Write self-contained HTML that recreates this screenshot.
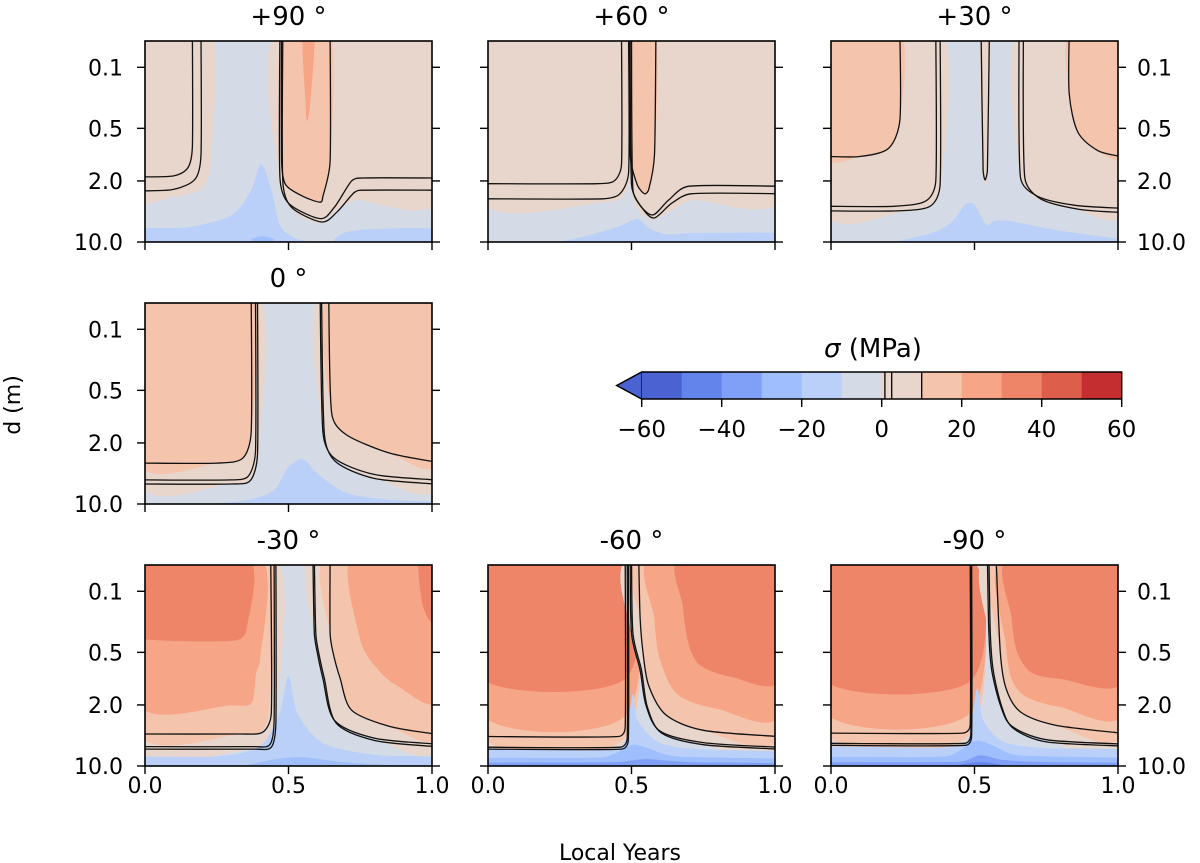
<!DOCTYPE html>
<html><head><meta charset="utf-8">
<style>
html,body{margin:0;padding:0;background:#fff;}
svg{display:block;font-family:"DejaVu Sans","Liberation Sans",sans-serif;}
</style></head>
<body>
<svg id="fig" width="1200" height="863" viewBox="0 0 1200 863" xmlns="http://www.w3.org/2000/svg">
<text x="620" y="860" font-size="22" text-anchor="middle">Local Years</text>
<text x="0" y="0" font-size="22" text-anchor="middle" transform="translate(20,405) rotate(-90)">d (m)</text>
</svg>
<script>
// ---------- data ----------
const levelColors = {n6:'#4a62d2',n5:'#6384eb',n4:'#80a0f8',n3:'#9ebefd',n2:'#bad0f8',n1:'#d4dbe6',p0:'#ecd3c6',p1:'#e8d6cd',p2:'#f5c4ad',p3:'#f6a586',p4:'#ee8569',p5:'#dc5e4b',p6:'#c42e30'};
const cbarEdges = [-60,-50,-40,-30,-20,-10,0,0.8,2.5,10,20,30,40,50,60];
const cbarKeys = ['n6','n5','n4','n3','n2','n1','p0','p1','p1','p2','p3','p4','p5','p6'];
const cbarLines = [0.8,2.5,10];
const cbarTicks = [-60,-40,-20,0,20,40,60];
const yTicks = [0.1,0.5,2.0,10.0];
const yTickLabels = ['0.1','0.5','2.0','10.0'];
const xTicks = [0,0.5,1.0];
const xTickLabels = ['0.0','0.5','1.0'];

const p90Fills = [
 ['p1',[[-0.02,0.04],[0.23,0.04],[0.23,1.0],[0.20,2.4],[0.08,3.1],[-0.02,3.2]]],
 ['p1',[[0.462,0.04],[1.02,0.04],[1.02,3.3],[0.74,3.3],[0.68,4.0],[0.61,5.9],[0.54,5.0],[0.48,3.0],[0.462,1.5]]],
 ['p2',[[0.478,0.04],[0.645,0.04],[0.645,1.2],[0.62,3.0],[0.61,3.5],[0.55,3.0],[0.49,2.2],[0.478,1.2]]],
 ['p3',[[0.55,0.04],[0.59,0.04],[0.575,0.25],[0.565,0.41],[0.56,0.25]]],
 ['n2',[[-0.02,7.2],[0.15,6.8],[0.30,5.0],[0.37,2.6],[0.405,1.3],[0.44,2.6],[0.47,6.5],[0.52,9.0],[0.58,10.5],[-0.02,10.5]]],
 ['n2',[[0.66,10.5],[0.69,8.0],[0.78,7.2],[1.02,7.2],[1.02,10.5]]],
 ['n3',[[0.37,9.4],[0.41,8.7],[0.45,9.4],[0.41,10.0]]]
];
const p90Lines = [
 [[0.165,0.04],[0.165,0.8],[0.15,1.4],[0.10,1.75],[-0.01,1.8]],
 [[0.195,0.04],[0.195,1.0],[0.175,1.9],[0.10,2.5],[-0.01,2.6]],
 [[0.47,0.04],[0.47,1.8],[0.50,3.6],[0.61,5.4],[0.66,4.0],[0.72,2.0],[0.76,1.85],[1.01,1.85]],
 [[0.48,0.04],[0.48,2.0],[0.51,4.0],[0.615,5.9],[0.67,4.5],[0.73,2.7],[0.77,2.55],[1.01,2.55]],
 [[0.645,0.04],[0.645,1.2],[0.62,3.0],[0.61,3.5],[0.55,3.0],[0.49,2.2],[0.476,1.2],[0.476,0.04]]
];
const p60Fills = [
 ['p1',[[-0.02,0.04],[0.50,0.04],[0.50,1.5],[0.47,3.0],[0.40,3.5],[-0.02,3.5]]],
 ['p1',[[0.49,0.04],[1.02,0.04],[1.02,3.2],[0.72,3.3],[0.64,4.3],[0.58,5.5],[0.53,4.5],[0.50,2.5]]],
 ['p2',[[0.49,0.04],[0.585,0.04],[0.58,1.0],[0.56,2.5],[0.545,2.8],[0.52,2.2],[0.495,1.0]]],
 ['n2',[[0.25,10.5],[0.35,8.5],[0.45,6.8],[0.52,5.5],[0.56,7.0],[0.62,8.2],[0.70,8.0],[1.02,8.0],[1.02,10.5]]]
];
const p60Lines = [
 [[0.465,0.04],[0.465,1.3],[0.44,2.0],[0.38,2.15],[-0.01,2.15]],
 [[0.49,0.04],[0.49,1.6],[0.46,2.8],[0.40,3.2],[-0.01,3.2]],
 [[0.585,0.04],[0.58,1.0],[0.56,2.5],[0.545,2.8],[0.52,2.2],[0.495,1.0],[0.492,0.04]],
 [[0.495,0.04],[0.50,2.2],[0.53,3.8],[0.575,4.9],[0.63,3.3],[0.70,2.3],[1.01,2.3]],
 [[0.50,0.04],[0.505,2.5],[0.54,4.2],[0.58,5.3],[0.64,3.6],[0.71,2.8],[1.01,2.8]]
];
const p30Fills = [
 ['p1',[[-0.02,0.04],[0.385,0.04],[0.385,2.0],[0.35,3.8],[0.25,4.5],[-0.02,4.6]]],
 ['p2',[[-0.02,0.04],[0.24,0.04],[0.24,0.4],[0.20,0.85],[0.1,1.05],[-0.02,1.05]]],
 ['p1',[[0.52,0.04],[0.555,0.04],[0.545,1.5],[0.537,2.2],[0.528,1.5]]],
 ['p1',[[0.65,0.04],[1.02,0.04],[1.02,4.6],[0.85,4.2],[0.72,3.2],[0.66,1.8]]],
 ['p2',[[0.83,0.04],[1.02,0.04],[1.02,1.05],[0.93,0.9],[0.86,0.55],[0.83,0.2]]],
 ['n2',[[0.23,10.5],[0.35,8.0],[0.42,6.0],[0.47,3.7],[0.50,3.8],[0.54,6.4],[0.57,5.8],[0.62,5.8],[0.80,7.5],[1.02,9.5],[1.02,10.5]]]
];
const p30Lines = [
 [[0.24,0.04],[0.24,0.4],[0.20,0.85],[0.1,1.05],[-0.01,1.05]],
 [[0.83,0.04],[0.83,0.2],[0.86,0.55],[0.93,0.9],[1.01,1.05]],
 [[0.365,0.04],[0.365,2.0],[0.33,3.4],[0.22,3.9],[-0.01,3.9]],
 [[0.38,0.04],[0.38,2.2],[0.345,3.9],[0.23,4.4],[-0.01,4.4]],
 [[0.523,0.04],[0.53,1.5],[0.537,1.95],[0.545,1.5],[0.552,0.04]],
 [[0.655,0.04],[0.66,1.8],[0.72,3.0],[0.85,3.8],[1.01,4.1]],
 [[0.67,0.04],[0.675,1.8],[0.73,3.2],[0.86,4.2],[1.01,4.6]]
];
const p0Fills = [
 ['p1',[[-0.02,0.04],[0.395,0.04],[0.395,2.5],[0.37,5.2],[0.3,5.8],[-0.02,5.9]]],
 ['p2',[[-0.02,0.04],[0.37,0.04],[0.37,1.5],[0.34,3.0],[0.25,3.4],[-0.02,3.4]]],
 ['p1',[[0.61,0.04],[1.02,0.04],[1.02,6.0],[0.80,5.0],[0.66,3.0],[0.62,1.5]]],
 ['p2',[[0.64,0.04],[1.02,0.04],[1.02,3.3],[0.85,2.6],[0.70,1.6],[0.65,0.9]]],
 ['n2',[[0.2,10.5],[0.35,9.2],[0.45,7.0],[0.50,3.8],[0.55,3.1],[0.60,4.5],[0.70,7.5],[0.85,9.0],[1.02,9.6],[1.02,10.5]]]
];
const p0Lines = [
 [[0.37,0.04],[0.37,1.5],[0.34,3.0],[0.25,3.4],[-0.01,3.4]],
 [[0.385,0.04],[0.385,2.5],[0.36,4.8],[0.3,5.3],[-0.01,5.3]],
 [[0.392,0.04],[0.392,2.7],[0.367,5.4],[0.3,5.9],[-0.01,5.9]],
 [[0.64,0.04],[0.65,0.9],[0.70,1.6],[0.85,2.6],[1.01,3.3]],
 [[0.61,0.04],[0.62,1.5],[0.66,3.0],[0.80,4.6],[1.01,5.3]],
 [[0.615,0.04],[0.625,1.6],[0.665,3.3],[0.80,5.1],[1.01,5.9]]
];
const m30Fills = [
 ['p1',[[-0.02,0.04],[0.455,0.04],[0.455,3.0],[0.44,5.9],[0.38,6.3],[-0.02,6.3]]],
 ['p2',[[-0.02,0.04],[0.43,0.04],[0.43,2.5],[0.40,4.1],[0.33,4.3],[-0.02,4.3]]],
 ['p3',[[-0.02,0.04],[0.40,0.04],[0.40,0.6],[0.385,0.9],[0.37,1.9],[0.30,2.0],[-0.02,2.0]]],
 ['p4',[[-0.02,0.04],[0.355,0.04],[0.355,0.25],[0.32,0.36],[0.05,0.36],[-0.02,0.3]]],
 ['p1',[[0.585,0.04],[1.02,0.04],[1.02,6.0],[0.80,4.8],[0.66,3.0],[0.62,1.0],[0.60,0.5],[0.59,0.3]]],
 ['p2',[[0.63,0.04],[1.02,0.04],[1.02,4.4],[0.85,3.5],[0.72,2.3],[0.68,1.0],[0.655,0.5],[0.645,0.3]]],
 ['p3',[[0.72,0.04],[1.02,0.04],[1.02,1.7],[0.88,1.2],[0.80,0.7],[0.75,0.35]]],
 ['p4',[[0.955,0.04],[1.02,0.04],[1.02,0.24],[0.97,0.15]]],
 ['n2',[[-0.02,8.0],[0.25,7.8],[0.40,6.0],[0.47,2.5],[0.50,0.95],[0.53,2.5],[0.62,5.5],[0.80,7.5],[1.02,8.0],[1.02,10.5],[-0.02,10.5]]],
 ['n3',[[0.35,10.5],[0.45,8.5],[0.55,8.0],[0.70,9.2],[0.9,10.0],[1.02,10.5]]]
];
const m30Lines = [
 [[0.438,0.04],[0.44,2.5],[0.41,4.1],[0.33,4.3],[-0.01,4.3]],
 [[0.45,0.04],[0.45,3.0],[0.435,5.7],[0.38,6.0],[-0.01,6.0]],
 [[0.456,0.04],[0.456,3.2],[0.44,6.1],[0.38,6.4],[-0.01,6.4]],
 [[0.585,0.04],[0.59,0.3],[0.60,0.5],[0.62,1.0],[0.66,3.0],[0.80,4.8],[1.01,5.6]],
 [[0.59,0.04],[0.595,0.3],[0.605,0.5],[0.625,1.0],[0.665,3.2],[0.80,5.1],[1.01,6.0]],
 [[0.645,0.04],[0.645,0.3],[0.655,0.5],[0.68,1.0],[0.72,2.3],[0.85,3.5],[1.01,4.3]]
];
const m60Fills = [
 ['p1',[[-0.02,0.04],[0.485,0.04],[0.485,5.0],[0.47,6.2],[-0.02,6.3]]],
 ['p2',[[-0.02,0.04],[0.48,0.04],[0.48,4.6],[-0.02,4.6]]],
 ['p3',[[-0.02,0.04],[0.48,0.04],[0.48,2.6],[-0.02,2.6]]],
 ['p4',[[-0.02,0.04],[0.477,0.04],[0.477,1.0],[-0.02,1.0]]],
 ['p1',[[0.495,0.04],[1.02,0.04],[1.02,6.5],[0.75,5.6],[0.6,4.0],[0.55,2.0],[0.53,0.8],[0.50,0.3]]],
 ['p2',[[0.525,0.04],[1.02,0.04],[1.02,4.6],[0.75,3.9],[0.62,2.6],[0.56,1.2],[0.54,0.5],[0.53,0.2]]],
 ['p3',[[0.57,0.04],[1.02,0.04],[1.02,2.5],[0.80,2.2],[0.66,1.5],[0.60,0.6],[0.58,0.2]]],
 ['p4',[[0.67,0.04],[1.02,0.04],[1.02,1.0],[0.85,0.95],[0.74,0.7],[0.70,0.4],[0.68,0.15]]],
 ['n2',[[-0.02,6.5],[0.45,6.4],[0.49,3.0],[0.505,1.5],[0.52,3.0],[0.6,5.5],[0.75,6.5],[1.02,7.0],[1.02,10.5],[-0.02,10.5]]],
 ['n3',[[-0.02,8.2],[0.4,8.0],[0.5,5.8],[0.55,6.2],[0.65,7.8],[1.02,8.4],[1.02,10.5],[-0.02,10.5]]],
 ['n4',[[-0.02,9.3],[0.45,9.1],[0.55,8.4],[0.7,9.1],[1.02,9.4],[1.02,10.5],[-0.02,10.5]]]
];
const m60Lines = [
 [[0.478,0.04],[0.478,3.6],[0.455,4.6],[-0.01,4.6]],
 [[0.485,0.04],[0.485,4.8],[0.46,6.1],[-0.01,6.1]],
 [[0.489,0.04],[0.489,5.0],[0.465,6.4],[-0.01,6.4]],
 [[0.495,0.04],[0.50,0.3],[0.53,0.8],[0.55,2.0],[0.6,4.0],[0.75,5.4],[1.01,6.1]],
 [[0.50,0.04],[0.505,0.3],[0.535,0.8],[0.555,2.1],[0.605,4.2],[0.75,5.7],[1.01,6.4]],
 [[0.525,0.04],[0.53,0.2],[0.54,0.5],[0.56,1.2],[0.62,2.6],[0.75,3.9],[1.01,4.6]]
];
const m90Fills = [
 ['p1',[[-0.02,0.04],[0.487,0.04],[0.487,4.8],[0.475,5.7],[-0.02,5.7]]],
 ['p2',[[-0.02,0.04],[0.485,0.04],[0.485,4.2],[-0.02,4.2]]],
 ['p3',[[-0.02,0.04],[0.485,0.04],[0.485,2.45],[-0.02,2.45]]],
 ['p4',[[-0.02,0.04],[0.485,0.04],[0.485,1.06],[-0.02,1.06]]],
 ['p1',[[0.545,0.04],[1.02,0.04],[1.02,6.0],[0.75,5.0],[0.63,3.5],[0.59,2.0],[0.56,0.8],[0.55,0.3]]],
 ['p2',[[0.575,0.04],[1.02,0.04],[1.02,4.2],[0.78,3.4],[0.66,2.4],[0.61,1.3],[0.59,0.5]]],
 ['p3',[[0.595,0.04],[1.02,0.04],[1.02,2.45],[0.80,2.1],[0.68,1.6],[0.63,1.0],[0.61,0.4]]],
 ['p4',[[0.62,0.04],[1.02,0.04],[1.02,1.06],[0.8,1.0],[0.7,0.85],[0.65,0.5],[0.63,0.2]]],
 ['n2',[[-0.02,6.2],[0.45,6.0],[0.49,3.0],[0.51,1.3],[0.53,3.0],[0.6,5.3],[0.75,6.3],[1.02,6.6],[1.02,10.5],[-0.02,10.5]]],
 ['n3',[[-0.02,8.0],[0.4,7.8],[0.5,5.2],[0.56,5.8],[0.65,7.6],[1.02,8.2],[1.02,10.5],[-0.02,10.5]]],
 ['n4',[[-0.02,9.2],[0.45,9.0],[0.52,7.6],[0.6,8.6],[0.75,9.1],[1.02,9.3],[1.02,10.5],[-0.02,10.5]]],
 ['n5',[[0.42,10.5],[0.52,9.1],[0.62,10.5]]]
];
const m90Lines = [
 [[0.485,0.04],[0.485,3.4],[0.46,4.2],[-0.01,4.2]],
 [[0.487,0.04],[0.487,4.4],[0.465,5.5],[-0.01,5.5]],
 [[0.49,0.04],[0.49,4.6],[0.468,5.8],[-0.01,5.8]],
 [[0.545,0.04],[0.55,0.3],[0.56,0.8],[0.59,2.0],[0.63,3.5],[0.75,5.0],[1.01,5.6]],
 [[0.55,0.04],[0.555,0.3],[0.565,0.8],[0.595,2.1],[0.635,3.7],[0.75,5.3],[1.01,5.9]],
 [[0.575,0.04],[0.59,0.5],[0.61,1.3],[0.66,2.4],[0.78,3.4],[1.01,4.2]]
];

const panels = [
 {name:'panel-plus90', title:'+90 °', x:145, y:41, fills:p90Fills, lines:p90Lines, left:true, right:false, xl:false},
 {name:'panel-plus60', title:'+60 °', x:488, y:41, fills:p60Fills, lines:p60Lines, left:false, right:false, xl:false},
 {name:'panel-plus30', title:'+30 °', x:831, y:41, fills:p30Fills, lines:p30Lines, left:false, right:true, xl:false},
 {name:'panel-0', title:'0 °', x:145, y:303, fills:p0Fills, lines:p0Lines, left:true, right:false, xl:false},
 {name:'panel-minus30', title:'-30 °', x:145, y:565, fills:m30Fills, lines:m30Lines, left:true, right:false, xl:true},
 {name:'panel-minus60', title:'-60 °', x:488, y:565, fills:m60Fills, lines:m60Lines, left:false, right:false, xl:true},
 {name:'panel-minus90', title:'-90 °', x:831, y:565, fills:m90Fills, lines:m90Lines, left:false, right:true, xl:true}
];

// ---------- drawing ----------
const NS='http://www.w3.org/2000/svg';
const svg=document.getElementById('fig');
const W=287,H=201,DMIN=0.05,DMAX=10;
function mk(tag,attrs,parent){const e=document.createElementNS(NS,tag);for(const k in attrs)e.setAttribute(k,attrs[k]);(parent||svg).appendChild(e);return e;}
function xs(p,t){return p.x+t*W;}
function ys(p,d){return p.y+(Math.log10(d)-Math.log10(DMIN))/(Math.log10(DMAX)-Math.log10(DMIN))*H;}
function clampVec(v,maxLen){const l=Math.hypot(v[0],v[1]);if(l>maxLen&&l>0){return [v[0]*maxLen/l,v[1]*maxLen/l];}return v;}
function smooth(pts,closed){
 const n=pts.length;let s='M'+pts[0][0].toFixed(1)+','+pts[0][1].toFixed(1);
 const get=i=>closed?pts[(i+n)%n]:pts[Math.max(0,Math.min(n-1,i))];
 const segs=closed?n:n-1;const k=1/7;
 for(let i=0;i<segs;i++){
  const p0=get(i-1),p1=get(i),p2=get(i+1),p3=get(i+2);
  const seg=Math.hypot(p2[0]-p1[0],p2[1]-p1[1]);
  const v1=clampVec([(p2[0]-p0[0])*k,(p2[1]-p0[1])*k],seg*0.4);
  const v2=clampVec([(p3[0]-p1[0])*k,(p3[1]-p1[1])*k],seg*0.4);
  const c1=[p1[0]+v1[0],p1[1]+v1[1]];
  const c2=[p2[0]-v2[0],p2[1]-v2[1]];
  s+='C'+c1.map(v=>v.toFixed(1)).join(',')+' '+c2.map(v=>v.toFixed(1)).join(',')+' '+p2[0].toFixed(1)+','+p2[1].toFixed(1);
 }
 return s+(closed?'Z':'');
}
const defs=mk('defs',{});
panels.forEach((p,pi)=>{
 const cp=mk('clipPath',{id:'clip'+pi},defs);
 mk('rect',{x:p.x,y:p.y,width:W,height:H},cp);
 const g=mk('g',{'clip-path':'url(#clip'+pi+')'});
 
 
 const bg=mk('rect',{x:p.x,y:p.y,width:W,height:H,fill:levelColors.n1},g);
 
 
 p.fills.forEach(f=>{
  const pts=f[1].map(q=>[xs(p,q[0]),ys(p,q[1])]);
  const el=mk('path',{d:smooth(pts,true),fill:levelColors[f[0]],stroke:levelColors[f[0]],'stroke-width':0.6},g);
  
  
 });
 p.lines.forEach(l=>{
  const pts=l.map(q=>[xs(p,q[0]),ys(p,q[1])]);
  const el=mk('path',{d:smooth(pts,false),fill:'none',stroke:'#111','stroke-width':1.3},g);
  
  
 });
 const fr=mk('rect',{x:p.x,y:p.y,width:W,height:H,fill:'none',stroke:'#000','stroke-width':1.6});
 
 
 const tt=mk('text',{x:p.x+W/2,y:p.y-16,'font-size':26,'text-anchor':'middle'});
 tt.textContent=p.title;
 
 
 yTicks.forEach((d,i)=>{
  const yy=ys(p,d);
  mk('line',{x1:p.x-8,x2:p.x,y1:yy,y2:yy,stroke:'#000','stroke-width':1.4});
  mk('line',{x1:p.x+W,x2:p.x+W+8,y1:yy,y2:yy,stroke:'#000','stroke-width':1.4});
  if(p.left){const t=mk('text',{x:p.x-22,y:yy+8,'font-size':22,'text-anchor':'end'});t.textContent=yTickLabels[i];
   
   }
  if(p.right){const t=mk('text',{x:p.x+W+19,y:yy+8,'font-size':22,'text-anchor':'start'});t.textContent=yTickLabels[i];
   
   }
 });
 xTicks.forEach((t,i)=>{
  const xx=xs(p,t);
  mk('line',{x1:xx,x2:xx,y1:p.y+H,y2:p.y+H+8,stroke:'#000','stroke-width':1.4});
  if(p.xl){const tx=mk('text',{x:xx,y:p.y+H+27,'font-size':22,'text-anchor':'middle'});tx.textContent=xTickLabels[i];
   
   }
 });
});
// colorbar
const CB={x0:641.7,x1:1121.7,y:372,h:27};
function cx(v){return CB.x0+(v+60)/120*(CB.x1-CB.x0);}
const cbg=mk('g',{});


const tri=mk('polygon',{points:`${cx(-60)},${CB.y} ${cx(-60)},${CB.y+CB.h} ${CB.x0-25},${CB.y+CB.h/2}`,fill:levelColors.n6,stroke:'#000','stroke-width':1.2},cbg);


cbarKeys.forEach((k,i)=>{
 const r=mk('rect',{x:cx(cbarEdges[i]),y:CB.y,width:cx(cbarEdges[i+1])-cx(cbarEdges[i])+0.5,height:CB.h,fill:levelColors[k]},cbg);
 
 
});
cbarLines.forEach(v=>{mk('line',{x1:cx(v),x2:cx(v),y1:CB.y,y2:CB.y+CB.h,stroke:'#000','stroke-width':1.3},cbg);});
mk('polygon',{points:`${CB.x0-25},${CB.y+CB.h/2} ${cx(-60)},${CB.y} ${CB.x1},${CB.y} ${CB.x1},${CB.y+CB.h} ${cx(-60)},${CB.y+CB.h}`,fill:'none',stroke:'#000','stroke-width':1.4},cbg);
cbarTicks.forEach(v=>{
 mk('line',{x1:cx(v),x2:cx(v),y1:CB.y+CB.h,y2:CB.y+CB.h+8,stroke:'#000','stroke-width':1.4},cbg);
 const t=mk('text',{x:cx(v),y:437,'font-size':23,'text-anchor':'middle'},cbg);
 t.textContent=(v<0?'\u2212'+(-v):String(v));
 
 
});
const ct=mk('text',{x:873,y:357,'font-size':26,'text-anchor':'middle'},cbg);
ct.innerHTML='<tspan font-style="italic">σ</tspan> (MPa)';


</script>
</body></html>
